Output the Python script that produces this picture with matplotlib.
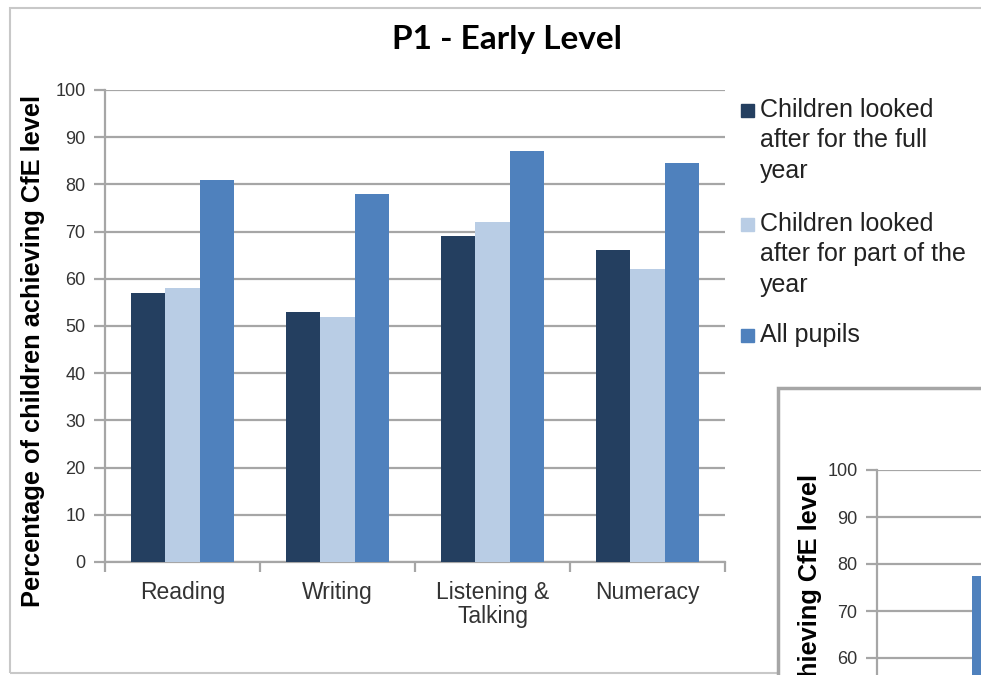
import matplotlib
matplotlib.use('Agg')
import matplotlib.pyplot as plt
from matplotlib.patches import Rectangle
import numpy as np

# data
categories = ['Reading', 'Writing', 'Listening &\nTalking', 'Numeracy']
series_names = ['Children looked\nafter for the full\nyear',
                'Children looked\nafter for part of the\nyear',
                'All pupils']
full_year = [57, 53, 69, 66]
part_year = [58, 52, 72, 62]
all_pupils = [81, 78, 87, 84.5]
yticks = [0, 10, 20, 30, 40, 50, 60, 70, 80, 90, 100]

# second (partly visible) chart
second_all_pupils = [77.5]

colors = ['#243F60', '#B9CDE5', '#4F81BD']
grid_c = '#A6A6A6'
W, H = 981, 675
ylabel = 'Percentage of children achieving CfE level'

fig = plt.figure(figsize=(W / 100, H / 100), dpi=100)
fig.patch.set_facecolor('white')


def px(x0, y0, x1, y1):
    # pixel box -> figure coords [left, bottom, width, height]
    return [x0 / W, 1 - y1 / H, (x1 - x0) / W, (y1 - y0) / H]


def style_axes(ax):
    ax.set_ylim(0, 100)
    ax.set_yticks(yticks)
    ax.set_xlim(-0.5, len(categories) - 0.5)
    ax.yaxis.grid(True, color=grid_c, lw=1.6)
    ax.set_axisbelow(True)
    for s in ('top', 'right'):
        ax.spines[s].set_visible(False)
    for s in ('left', 'bottom'):
        ax.spines[s].set_color(grid_c)
        ax.spines[s].set_linewidth(1.6)
    ax.tick_params(axis='y', length=8, width=1.6, color=grid_c,
                   labelsize=13, labelcolor='#333333', pad=6)
    for t in ax.get_yticklabels():
        t.set_fontfamily('Liberation Sans')
    ax.set_ylabel(ylabel, fontsize=18.3, fontweight='bold',
                  family='Liberation Sans')


# outer frame of the main chart
fig.patches.append(Rectangle((10 / W, 1 - 673 / H), 1.2, (673 - 8) / H,
                             transform=fig.transFigure, fill=False,
                             edgecolor='#C8C8C8', lw=1.5, zorder=0.5))

ax = fig.add_axes(px(105, 90, 725, 562))
style_axes(ax)
ax.yaxis.set_label_coords(-0.096, 0.447)
x = np.arange(len(categories))
w = 0.22
for i, vals in enumerate([full_year, part_year, all_pupils]):
    ax.bar(x + (i - 1) * w, vals, w, color=colors[i], zorder=3)

ax.set_xticks(x)
ax.set_xticklabels(categories, fontsize=16.5, family='Liberation Sans',
                   color='#333333', linespacing=1.05)
ax.tick_params(axis='x', length=0, pad=14)
ax.set_xticks(np.arange(-0.5, len(categories) + 0.5), minor=True)
ax.tick_params(axis='x', which='minor', length=7, width=1.6, color=grid_c)

fig.text(507 / W, 1 - 39 / H, 'P1 - Early Level', ha='center', va='center',
         fontsize=24, fontweight='bold', family='Lato')

# legend drawn by hand so the marker sits on the first line
leg_tops = [110, 224, 335]
for name, c, ty in zip(series_names, colors, leg_tops):
    fig.patches.append(Rectangle((741 / W, 1 - (ty + 7) / H), 13 / W, 13 / H,
                                 transform=fig.transFigure, color=c))
    fig.text(760 / W, 1 - (ty - 12) / H, name, ha='left', va='top',
             fontsize=18, family='Liberation Sans', color='#222222',
             linespacing=1.33)

# second chart box, cut off by the page
fig.patches.append(Rectangle((778 / W, -0.1), 1.0, 0.1 + 1 - 388 / H,
                             transform=fig.transFigure, facecolor='white',
                             edgecolor=grid_c, lw=2.5, zorder=1))
ax2 = fig.add_axes(px(877, 470, 877 + 620, 940), zorder=2)
ax2.patch.set_alpha(0)
style_axes(ax2)
ax2.yaxis.set_label_coords(-0.089, 0.447)
ax2.set_xticks([])
ax2.bar(np.arange(len(second_all_pupils)) + w, second_all_pupils, w,
        color=colors[2], zorder=3)

fig.savefig('out.png', dpi=100)
